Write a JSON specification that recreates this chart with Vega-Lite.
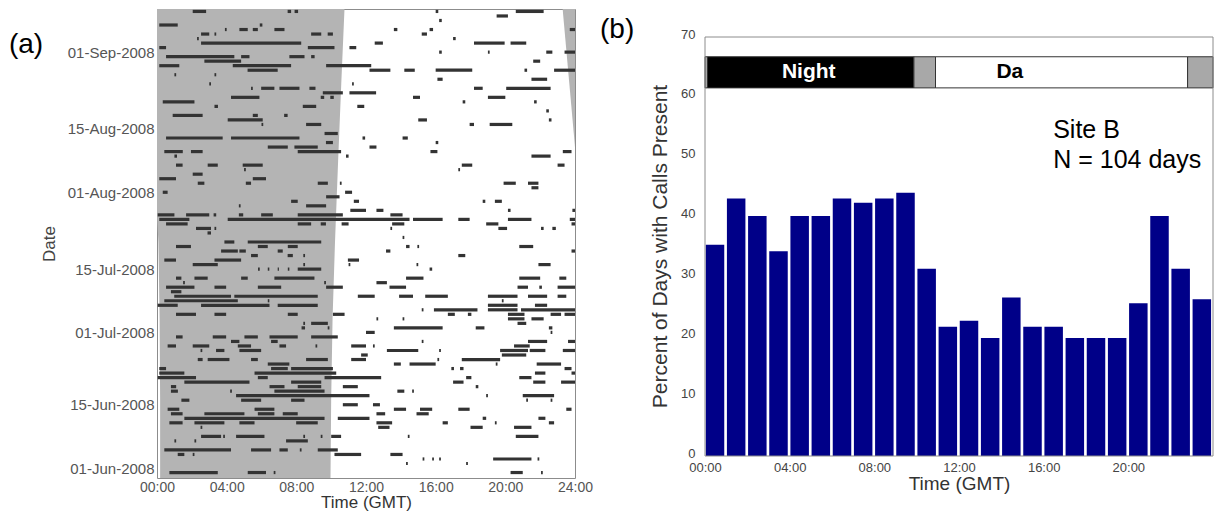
{
  "$schema": "https://vega.github.io/schema/vega-lite/v6.json",
  "padding": {"left": 8, "top": 8, "right": 0, "bottom": 0},
  "spacing": 6,
  "config": {
    "font": "Liberation Sans",
    "view": {"stroke": "#8c8c8c"},
    "axis": {"grid": false, "labelFont": "Liberation Sans", "titleFont": "Liberation Sans", "titleFontWeight": "normal"}
  },
  "hconcat": [
    {
      "width": 418,
      "height": 469,
      "layer": [
        {
          "data": {"values": [
            {"part": "main", "date": "2008/05/29", "start": 0.18, "end": 9.96},
            {"part": "main", "date": "2008/06/16", "start": 0.18, "end": 10.0},
            {"part": "main", "date": "2008/07/04", "start": 0.15, "end": 10.08},
            {"part": "main", "date": "2008/07/21", "start": 0.08, "end": 10.22},
            {"part": "main", "date": "2008/07/27", "start": 0, "end": 10.28},
            {"part": "main", "date": "2008/08/08", "start": 0, "end": 10.4},
            {"part": "main", "date": "2008/08/25", "start": 0, "end": 10.58},
            {"part": "main", "date": "2008/09/11", "start": 0, "end": 10.77},
            {"part": "late", "date": "2008/08/11", "start": 24, "end": 24},
            {"part": "late", "date": "2008/09/11", "start": 23.28, "end": 24}
          ]},
          "mark": {"type": "area", "orient": "horizontal", "color": "#b4b4b4", "clip": true},
          "encoding": {
            "y": {
              "field": "date", "type": "temporal",
              "scale": {"domain": [{"year": 2008, "month": 5, "date": 29, "hours": 19}, {"year": 2008, "month": 9, "date": 10, "hours": 13}]},
              "axis": {
                "title": "Date",
                "values": [{"year": 2008, "month": 6, "date": 1}, {"year": 2008, "month": 6, "date": 15}, {"year": 2008, "month": 7, "date": 1}, {"year": 2008, "month": 7, "date": 15}, {"year": 2008, "month": 8, "date": 1}, {"year": 2008, "month": 8, "date": 15}, {"year": 2008, "month": 9, "date": 1}],
                "format": "%d-%b-%Y",
                "labelFontSize": 15, "labelColor": "#555555", "labelPadding": 3,
                "ticks": false, "domain": false,
                "titleFontSize": 17, "titleColor": "#444444", "titlePadding": 9
              }
            },
            "x": {
              "field": "start", "type": "quantitative",
              "scale": {"domain": [0, 24], "nice": false},
              "axis": {
                "title": "Time (GMT)",
                "values": [0, 4, 8, 12, 16, 20, 24],
                "labelExpr": "(datum.value < 10 ? '0' : '') + datum.value + ':00'",
                "labelFlush": false,
                "labelFontSize": 14, "labelColor": "#555555", "labelPadding": 2,
                "ticks": false, "domain": false,
                "titleFontSize": 17, "titleColor": "#333333", "titlePadding": 0
              }
            },
            "x2": {"field": "end"},
            "detail": {"field": "part"}
          }
        },
        {
          "data": {"values": [
            {"date": "2008/09/10", "start": 2.05, "end": 2.82}, {"date": "2008/09/10", "start": 7.5, "end": 7.7}, {"date": "2008/09/10", "start": 7.9, "end": 8.1}, {"date": "2008/09/10", "start": 16.0, "end": 16.15}, {"date": "2008/09/10", "start": 20.6, "end": 22.2},
            {"date": "2008/09/09", "start": 19.5, "end": 20.15},
            {"date": "2008/09/08", "start": 16.2, "end": 16.35},
            {"date": "2008/09/07", "start": 0.13, "end": 1.19}, {"date": "2008/09/07", "start": 5.9, "end": 6.05},
            {"date": "2008/09/06", "start": 3.9, "end": 4.0}, {"date": "2008/09/06", "start": 4.73, "end": 5.21}, {"date": "2008/09/06", "start": 5.5, "end": 5.79}, {"date": "2008/09/06", "start": 6.74, "end": 7.32}, {"date": "2008/09/06", "start": 13.6, "end": 13.8}, {"date": "2008/09/06", "start": 15.65, "end": 15.85}, {"date": "2008/09/06", "start": 23.7, "end": 24},
            {"date": "2008/09/05", "start": 2.53, "end": 3.0}, {"date": "2008/09/05", "start": 3.3, "end": 3.4}, {"date": "2008/09/05", "start": 8.85, "end": 9.43}, {"date": "2008/09/05", "start": 9.8, "end": 10.1}, {"date": "2008/09/05", "start": 15.2, "end": 15.5},
            {"date": "2008/09/04", "start": 2.3, "end": 2.4}, {"date": "2008/09/04", "start": 17.0, "end": 17.15},
            {"date": "2008/09/03", "start": 2.53, "end": 8.28}, {"date": "2008/09/03", "start": 12.5, "end": 12.97}, {"date": "2008/09/03", "start": 18.2, "end": 19.96}, {"date": "2008/09/03", "start": 20.3, "end": 21.2},
            {"date": "2008/09/02", "start": 0.13, "end": 0.52}, {"date": "2008/09/02", "start": 8.66, "end": 10.19}, {"date": "2008/09/02", "start": 11.05, "end": 11.44},
            {"date": "2008/09/01", "start": 16.2, "end": 16.35}, {"date": "2008/09/01", "start": 19.0, "end": 19.1}, {"date": "2008/09/01", "start": 22.35, "end": 22.7}, {"date": "2008/09/01", "start": 23.4, "end": 24},
            {"date": "2008/08/31", "start": 0.52, "end": 4.44}, {"date": "2008/08/31", "start": 4.83, "end": 5.31}, {"date": "2008/08/31", "start": 7.6, "end": 8.47}, {"date": "2008/08/31", "start": 8.85, "end": 9.05},
            {"date": "2008/08/30", "start": 2.72, "end": 4.83}, {"date": "2008/08/30", "start": 21.6, "end": 22.0},
            {"date": "2008/08/29", "start": 0.13, "end": 1.28}, {"date": "2008/08/29", "start": 4.35, "end": 7.7}, {"date": "2008/08/29", "start": 9.71, "end": 12.3},
            {"date": "2008/08/28", "start": 5.2, "end": 6.93}, {"date": "2008/08/28", "start": 12.2, "end": 13.4}, {"date": "2008/08/28", "start": 14.2, "end": 14.8}, {"date": "2008/08/28", "start": 16.0, "end": 18.1}, {"date": "2008/08/28", "start": 21.1, "end": 21.25}, {"date": "2008/08/28", "start": 22.8, "end": 24},
            {"date": "2008/08/27", "start": 1.0, "end": 1.1}, {"date": "2008/08/27", "start": 3.3, "end": 3.4},
            {"date": "2008/08/26", "start": 16.1, "end": 16.4}, {"date": "2008/08/26", "start": 21.5, "end": 22.4},
            {"date": "2008/08/25", "start": 3.0, "end": 3.1}, {"date": "2008/08/25", "start": 11.2, "end": 11.3},
            {"date": "2008/08/24", "start": 5.4, "end": 5.5}, {"date": "2008/08/24", "start": 5.98, "end": 6.74}, {"date": "2008/08/24", "start": 7.03, "end": 8.18}, {"date": "2008/08/24", "start": 8.75, "end": 9.1}, {"date": "2008/08/24", "start": 18.2, "end": 18.7}, {"date": "2008/08/24", "start": 20.05, "end": 22.6},
            {"date": "2008/08/23", "start": 9.52, "end": 10.67}, {"date": "2008/08/23", "start": 11.05, "end": 12.58},
            {"date": "2008/08/22", "start": 4.25, "end": 5.88}, {"date": "2008/08/22", "start": 9.4, "end": 9.6}, {"date": "2008/08/22", "start": 9.95, "end": 10.15}, {"date": "2008/08/22", "start": 14.7, "end": 15.1}, {"date": "2008/08/22", "start": 19.0, "end": 20.0},
            {"date": "2008/08/21", "start": 0.33, "end": 2.15}, {"date": "2008/08/21", "start": 17.55, "end": 17.7}, {"date": "2008/08/21", "start": 21.65, "end": 21.8},
            {"date": "2008/08/20", "start": 3.3, "end": 3.5}, {"date": "2008/08/20", "start": 8.37, "end": 9.14}, {"date": "2008/08/20", "start": 11.5, "end": 11.9},
            {"date": "2008/08/19", "start": 22.35, "end": 22.5},
            {"date": "2008/08/18", "start": 0.9, "end": 2.62}, {"date": "2008/08/18", "start": 5.5, "end": 5.79}, {"date": "2008/08/18", "start": 7.3, "end": 7.5},
            {"date": "2008/08/17", "start": 4.06, "end": 6.07}, {"date": "2008/08/17", "start": 15.0, "end": 15.5}, {"date": "2008/08/17", "start": 22.5, "end": 22.65},
            {"date": "2008/08/16", "start": 6.0, "end": 6.1}, {"date": "2008/08/16", "start": 8.56, "end": 9.43}, {"date": "2008/08/16", "start": 17.95, "end": 18.2}, {"date": "2008/08/16", "start": 19.1, "end": 20.4},
            {"date": "2008/08/14", "start": 9.62, "end": 10.38},
            {"date": "2008/08/13", "start": 0.52, "end": 3.77}, {"date": "2008/08/13", "start": 4.25, "end": 8.18}, {"date": "2008/08/13", "start": 11.8, "end": 11.95}, {"date": "2008/08/13", "start": 14.1, "end": 14.4},
            {"date": "2008/08/12", "start": 9.7, "end": 10.1}, {"date": "2008/08/12", "start": 16.0, "end": 16.15},
            {"date": "2008/08/11", "start": 6.36, "end": 7.51}, {"date": "2008/08/11", "start": 7.89, "end": 9.23}, {"date": "2008/08/11", "start": 12.2, "end": 12.6},
            {"date": "2008/08/10", "start": 0.42, "end": 1.48}, {"date": "2008/08/10", "start": 1.95, "end": 2.62}, {"date": "2008/08/10", "start": 8.08, "end": 10.57}, {"date": "2008/08/10", "start": 15.7, "end": 16.1}, {"date": "2008/08/10", "start": 23.3, "end": 23.8},
            {"date": "2008/08/09", "start": 1.0, "end": 1.15}, {"date": "2008/08/09", "start": 10.85, "end": 11.0}, {"date": "2008/08/09", "start": 21.5, "end": 22.6},
            {"date": "2008/08/07", "start": 1.09, "end": 1.47}, {"date": "2008/08/07", "start": 2.91, "end": 3.49}, {"date": "2008/08/07", "start": 4.92, "end": 6.07}, {"date": "2008/08/07", "start": 17.5, "end": 18.1}, {"date": "2008/08/07", "start": 23.0, "end": 23.4},
            {"date": "2008/08/06", "start": 5.0, "end": 5.1}, {"date": "2008/08/06", "start": 17.3, "end": 17.4},
            {"date": "2008/08/05", "start": 2.05, "end": 2.62},
            {"date": "2008/08/04", "start": 0.13, "end": 1.09}, {"date": "2008/08/04", "start": 5.5, "end": 6.26},
            {"date": "2008/08/03", "start": 2.34, "end": 2.72}, {"date": "2008/08/03", "start": 5.1, "end": 5.4}, {"date": "2008/08/03", "start": 9.23, "end": 9.81}, {"date": "2008/08/03", "start": 10.5, "end": 10.6}, {"date": "2008/08/03", "start": 19.9, "end": 20.6}, {"date": "2008/08/03", "start": 21.3, "end": 21.9},
            {"date": "2008/08/02", "start": 21.5, "end": 21.9},
            {"date": "2008/08/01", "start": 0.33, "end": 0.61}, {"date": "2008/08/01", "start": 10.8, "end": 11.2},
            {"date": "2008/07/31", "start": 9.71, "end": 10.48},
            {"date": "2008/07/30", "start": 7.7, "end": 8.08}, {"date": "2008/07/30", "start": 11.3, "end": 11.6}, {"date": "2008/07/30", "start": 18.7, "end": 18.85}, {"date": "2008/07/30", "start": 19.4, "end": 19.8},
            {"date": "2008/07/29", "start": 4.7, "end": 4.8}, {"date": "2008/07/29", "start": 8.56, "end": 9.71},
            {"date": "2008/07/28", "start": 11.1, "end": 12.0}, {"date": "2008/07/28", "start": 12.6, "end": 13.0}, {"date": "2008/07/28", "start": 20.15, "end": 20.3}, {"date": "2008/07/28", "start": 23.85, "end": 24},
            {"date": "2008/07/27", "start": 0.04, "end": 1.0}, {"date": "2008/07/27", "start": 1.67, "end": 3.0}, {"date": "2008/07/27", "start": 3.25, "end": 3.4}, {"date": "2008/07/27", "start": 4.7, "end": 4.95}, {"date": "2008/07/27", "start": 5.98, "end": 6.65}, {"date": "2008/07/27", "start": 8.08, "end": 10.67}, {"date": "2008/07/27", "start": 13.4, "end": 14.1},
            {"date": "2008/07/26", "start": 0.13, "end": 1.86}, {"date": "2008/07/26", "start": 4.06, "end": 14.5}, {"date": "2008/07/26", "start": 14.7, "end": 16.4}, {"date": "2008/07/26", "start": 17.3, "end": 17.95}, {"date": "2008/07/26", "start": 20.15, "end": 21.5}, {"date": "2008/07/26", "start": 23.7, "end": 24},
            {"date": "2008/07/25", "start": 0.52, "end": 1.76}, {"date": "2008/07/25", "start": 8.08, "end": 8.85}, {"date": "2008/07/25", "start": 9.4, "end": 9.7}, {"date": "2008/07/25", "start": 10.6, "end": 11.0}, {"date": "2008/07/25", "start": 13.5, "end": 14.2}, {"date": "2008/07/25", "start": 18.9, "end": 19.6}, {"date": "2008/07/25", "start": 23.8, "end": 24},
            {"date": "2008/07/24", "start": 2.24, "end": 3.1}, {"date": "2008/07/24", "start": 3.3, "end": 3.4}, {"date": "2008/07/24", "start": 13.4, "end": 13.5}, {"date": "2008/07/24", "start": 19.6, "end": 20.1}, {"date": "2008/07/24", "start": 22.05, "end": 22.2}, {"date": "2008/07/24", "start": 22.7, "end": 22.9},
            {"date": "2008/07/23", "start": 2.9, "end": 3.1},
            {"date": "2008/07/22", "start": 14.1, "end": 14.2},
            {"date": "2008/07/21", "start": 3.87, "end": 4.44}, {"date": "2008/07/21", "start": 5.21, "end": 9.43},
            {"date": "2008/07/20", "start": 1.09, "end": 1.95}, {"date": "2008/07/20", "start": 5.79, "end": 6.36}, {"date": "2008/07/20", "start": 7.51, "end": 8.08}, {"date": "2008/07/20", "start": 14.3, "end": 14.5}, {"date": "2008/07/20", "start": 14.95, "end": 15.05}, {"date": "2008/07/20", "start": 20.8, "end": 21.6},
            {"date": "2008/07/19", "start": 3.68, "end": 4.64}, {"date": "2008/07/19", "start": 4.73, "end": 5.1}, {"date": "2008/07/19", "start": 6.93, "end": 7.22}, {"date": "2008/07/19", "start": 13.15, "end": 13.4}, {"date": "2008/07/19", "start": 23.8, "end": 24},
            {"date": "2008/07/18", "start": 5.4, "end": 5.79}, {"date": "2008/07/18", "start": 7.5, "end": 7.8}, {"date": "2008/07/18", "start": 8.4, "end": 8.5}, {"date": "2008/07/18", "start": 17.3, "end": 17.7},
            {"date": "2008/07/17", "start": 0.42, "end": 1.09}, {"date": "2008/07/17", "start": 3.3, "end": 4.83}, {"date": "2008/07/17", "start": 10.96, "end": 11.6},
            {"date": "2008/07/16", "start": 2.05, "end": 3.49}, {"date": "2008/07/16", "start": 8.4, "end": 8.5}, {"date": "2008/07/16", "start": 11.0, "end": 11.1}, {"date": "2008/07/16", "start": 14.9, "end": 15.0}, {"date": "2008/07/16", "start": 21.9, "end": 22.6},
            {"date": "2008/07/15", "start": 5.8, "end": 5.9}, {"date": "2008/07/15", "start": 6.36, "end": 6.45}, {"date": "2008/07/15", "start": 6.93, "end": 7.0}, {"date": "2008/07/15", "start": 7.51, "end": 7.6}, {"date": "2008/07/15", "start": 8.08, "end": 9.43}, {"date": "2008/07/15", "start": 15.65, "end": 15.8},
            {"date": "2008/07/13", "start": 1.09, "end": 1.4}, {"date": "2008/07/13", "start": 2.15, "end": 2.91}, {"date": "2008/07/13", "start": 4.83, "end": 5.21}, {"date": "2008/07/13", "start": 6.74, "end": 9.04}, {"date": "2008/07/13", "start": 14.3, "end": 15.3}, {"date": "2008/07/13", "start": 20.8, "end": 22.0}, {"date": "2008/07/13", "start": 23.1, "end": 23.5},
            {"date": "2008/07/12", "start": 1.5, "end": 1.6}, {"date": "2008/07/12", "start": 9.6, "end": 9.7}, {"date": "2008/07/12", "start": 12.6, "end": 13.2},
            {"date": "2008/07/11", "start": 0.52, "end": 2.15}, {"date": "2008/07/11", "start": 3.3, "end": 3.97}, {"date": "2008/07/11", "start": 5.79, "end": 7.13}, {"date": "2008/07/11", "start": 9.71, "end": 10.67}, {"date": "2008/07/11", "start": 13.35, "end": 14.3}, {"date": "2008/07/11", "start": 20.7, "end": 21.3}, {"date": "2008/07/11", "start": 21.95, "end": 22.1}, {"date": "2008/07/11", "start": 23.0, "end": 24},
            {"date": "2008/07/10", "start": 0.8, "end": 1.4},
            {"date": "2008/07/09", "start": 0.99, "end": 4.25}, {"date": "2008/07/09", "start": 4.44, "end": 9.23}, {"date": "2008/07/09", "start": 11.53, "end": 12.5}, {"date": "2008/07/09", "start": 13.9, "end": 14.7}, {"date": "2008/07/09", "start": 15.4, "end": 16.7}, {"date": "2008/07/09", "start": 19.0, "end": 20.7}, {"date": "2008/07/09", "start": 21.3, "end": 22.4}, {"date": "2008/07/09", "start": 23.0, "end": 23.5},
            {"date": "2008/07/08", "start": 0.42, "end": 4.64}, {"date": "2008/07/08", "start": 6.36, "end": 6.45}, {"date": "2008/07/08", "start": 19.8, "end": 19.9},
            {"date": "2008/07/07", "start": 0.04, "end": 1.19}, {"date": "2008/07/07", "start": 2.53, "end": 6.46}, {"date": "2008/07/07", "start": 6.93, "end": 9.23}, {"date": "2008/07/07", "start": 19.0, "end": 20.7}, {"date": "2008/07/07", "start": 21.7, "end": 22.4},
            {"date": "2008/07/06", "start": 15.2, "end": 15.3}, {"date": "2008/07/06", "start": 15.9, "end": 18.4}, {"date": "2008/07/06", "start": 19.0, "end": 20.7}, {"date": "2008/07/06", "start": 20.9, "end": 24},
            {"date": "2008/07/05", "start": 1.09, "end": 2.24}, {"date": "2008/07/05", "start": 3.3, "end": 3.97}, {"date": "2008/07/05", "start": 7.51, "end": 8.08}, {"date": "2008/07/05", "start": 10.1, "end": 10.77}, {"date": "2008/07/05", "start": 16.7, "end": 17.1}, {"date": "2008/07/05", "start": 17.85, "end": 18.05}, {"date": "2008/07/05", "start": 20.15, "end": 21.1}, {"date": "2008/07/05", "start": 22.6, "end": 23.2}, {"date": "2008/07/05", "start": 23.4, "end": 24},
            {"date": "2008/07/04", "start": 12.6, "end": 12.7}, {"date": "2008/07/04", "start": 14.1, "end": 14.2}, {"date": "2008/07/04", "start": 20.15, "end": 21.1}, {"date": "2008/07/04", "start": 21.5, "end": 22.2},
            {"date": "2008/07/03", "start": 8.4, "end": 8.5}, {"date": "2008/07/03", "start": 8.85, "end": 9.81}, {"date": "2008/07/03", "start": 20.7, "end": 21.2},
            {"date": "2008/07/02", "start": 8.3, "end": 8.5}, {"date": "2008/07/02", "start": 9.8, "end": 9.9}, {"date": "2008/07/02", "start": 13.6, "end": 16.4}, {"date": "2008/07/02", "start": 18.3, "end": 18.8}, {"date": "2008/07/02", "start": 22.5, "end": 22.7},
            {"date": "2008/07/01", "start": 12.0, "end": 12.5}, {"date": "2008/07/01", "start": 22.6, "end": 22.7},
            {"date": "2008/06/30", "start": 1.09, "end": 1.47}, {"date": "2008/06/30", "start": 3.2, "end": 3.97}, {"date": "2008/06/30", "start": 5.02, "end": 5.79}, {"date": "2008/06/30", "start": 6.46, "end": 8.08}, {"date": "2008/06/30", "start": 8.85, "end": 10.38},
            {"date": "2008/06/29", "start": 4.25, "end": 4.73}, {"date": "2008/06/29", "start": 6.55, "end": 6.93}, {"date": "2008/06/29", "start": 15.2, "end": 15.3}, {"date": "2008/06/29", "start": 21.3, "end": 22.4}, {"date": "2008/06/29", "start": 23.6, "end": 24},
            {"date": "2008/06/28", "start": 0.61, "end": 1.09}, {"date": "2008/06/28", "start": 2.05, "end": 3.0}, {"date": "2008/06/28", "start": 4.64, "end": 5.4}, {"date": "2008/06/28", "start": 7.03, "end": 7.41}, {"date": "2008/06/28", "start": 9.1, "end": 9.2}, {"date": "2008/06/28", "start": 11.15, "end": 12.0}, {"date": "2008/06/28", "start": 12.4, "end": 12.5}, {"date": "2008/06/28", "start": 20.5, "end": 21.4},
            {"date": "2008/06/27", "start": 2.5, "end": 2.6}, {"date": "2008/06/27", "start": 3.39, "end": 3.87}, {"date": "2008/06/27", "start": 4.73, "end": 5.98}, {"date": "2008/06/27", "start": 13.2, "end": 15.0}, {"date": "2008/06/27", "start": 16.2, "end": 16.3}, {"date": "2008/06/27", "start": 19.7, "end": 21.3}, {"date": "2008/06/27", "start": 21.4, "end": 22.3}, {"date": "2008/06/27", "start": 23.3, "end": 24},
            {"date": "2008/06/26", "start": 11.72, "end": 12.1}, {"date": "2008/06/26", "start": 19.8, "end": 21.2},
            {"date": "2008/06/25", "start": 2.34, "end": 2.62}, {"date": "2008/06/25", "start": 2.91, "end": 4.16}, {"date": "2008/06/25", "start": 5.4, "end": 5.79}, {"date": "2008/06/25", "start": 8.56, "end": 9.81}, {"date": "2008/06/25", "start": 11.15, "end": 12.0}, {"date": "2008/06/25", "start": 16.1, "end": 16.2}, {"date": "2008/06/25", "start": 17.5, "end": 19.7},
            {"date": "2008/06/24", "start": 6.36, "end": 7.6}, {"date": "2008/06/24", "start": 13.6, "end": 14.0}, {"date": "2008/06/24", "start": 14.5, "end": 16.0}, {"date": "2008/06/24", "start": 19.45, "end": 19.55}, {"date": "2008/06/24", "start": 21.8, "end": 23.2},
            {"date": "2008/06/23", "start": 0.13, "end": 0.52}, {"date": "2008/06/23", "start": 6.55, "end": 7.51}, {"date": "2008/06/23", "start": 7.7, "end": 10.1}, {"date": "2008/06/23", "start": 16.9, "end": 17.05}, {"date": "2008/06/23", "start": 17.4, "end": 17.6}, {"date": "2008/06/23", "start": 23.4, "end": 23.8},
            {"date": "2008/06/22", "start": 0.13, "end": 1.57}, {"date": "2008/06/22", "start": 5.6, "end": 10.29}, {"date": "2008/06/22", "start": 21.7, "end": 22.3}, {"date": "2008/06/22", "start": 23.8, "end": 24},
            {"date": "2008/06/21", "start": 0.04, "end": 2.24}, {"date": "2008/06/21", "start": 5.79, "end": 6.36}, {"date": "2008/06/21", "start": 9.62, "end": 12.87}, {"date": "2008/06/21", "start": 17.75, "end": 18.05}, {"date": "2008/06/21", "start": 20.8, "end": 21.5},
            {"date": "2008/06/20", "start": 1.57, "end": 5.31}, {"date": "2008/06/20", "start": 7.7, "end": 9.43}, {"date": "2008/06/20", "start": 17.0, "end": 17.6}, {"date": "2008/06/20", "start": 21.6, "end": 22.3}, {"date": "2008/06/20", "start": 23.2, "end": 24},
            {"date": "2008/06/19", "start": 0.8, "end": 1.1}, {"date": "2008/06/19", "start": 6.46, "end": 7.32}, {"date": "2008/06/19", "start": 8.08, "end": 9.43}, {"date": "2008/06/19", "start": 10.67, "end": 11.53}, {"date": "2008/06/19", "start": 18.3, "end": 18.45},
            {"date": "2008/06/18", "start": 0.8, "end": 1.2}, {"date": "2008/06/18", "start": 4.2, "end": 4.3}, {"date": "2008/06/18", "start": 6.74, "end": 9.62}, {"date": "2008/06/18", "start": 13.8, "end": 14.2}, {"date": "2008/06/18", "start": 14.65, "end": 14.75},
            {"date": "2008/06/17", "start": 4.54, "end": 12.2}, {"date": "2008/06/17", "start": 18.9, "end": 19.0}, {"date": "2008/06/17", "start": 21.0, "end": 22.8},
            {"date": "2008/06/16", "start": 1.4, "end": 1.86}, {"date": "2008/06/16", "start": 4.83, "end": 5.98}, {"date": "2008/06/16", "start": 7.7, "end": 8.47}, {"date": "2008/06/16", "start": 21.2, "end": 21.3}, {"date": "2008/06/16", "start": 22.6, "end": 22.7},
            {"date": "2008/06/15", "start": 10.67, "end": 11.53}, {"date": "2008/06/15", "start": 12.4, "end": 12.8},
            {"date": "2008/06/14", "start": 0.61, "end": 1.28}, {"date": "2008/06/14", "start": 5.6, "end": 6.74}, {"date": "2008/06/14", "start": 13.6, "end": 14.3}, {"date": "2008/06/14", "start": 15.1, "end": 15.8}, {"date": "2008/06/14", "start": 17.3, "end": 17.95}, {"date": "2008/06/14", "start": 23.5, "end": 23.8},
            {"date": "2008/06/13", "start": 0.8, "end": 1.47}, {"date": "2008/06/13", "start": 2.72, "end": 5.02}, {"date": "2008/06/13", "start": 5.79, "end": 6.74}, {"date": "2008/06/13", "start": 7.22, "end": 8.08}, {"date": "2008/06/13", "start": 12.6, "end": 13.1}, {"date": "2008/06/13", "start": 14.9, "end": 15.6},
            {"date": "2008/06/12", "start": 1.57, "end": 9.62}, {"date": "2008/06/12", "start": 10.38, "end": 12.2}, {"date": "2008/06/12", "start": 18.7, "end": 18.9}, {"date": "2008/06/12", "start": 21.9, "end": 22.3},
            {"date": "2008/06/11", "start": 0.71, "end": 1.47}, {"date": "2008/06/11", "start": 2.15, "end": 3.87}, {"date": "2008/06/11", "start": 4.73, "end": 5.6}, {"date": "2008/06/11", "start": 7.99, "end": 9.23}, {"date": "2008/06/11", "start": 12.6, "end": 13.5}, {"date": "2008/06/11", "start": 16.4, "end": 16.7}, {"date": "2008/06/11", "start": 19.4, "end": 19.5}, {"date": "2008/06/11", "start": 22.5, "end": 22.8},
            {"date": "2008/06/10", "start": 2.5, "end": 2.6}, {"date": "2008/06/10", "start": 12.7, "end": 13.35}, {"date": "2008/06/10", "start": 18.0, "end": 18.7}, {"date": "2008/06/10", "start": 20.5, "end": 21.5},
            {"date": "2008/06/08", "start": 2.53, "end": 3.68}, {"date": "2008/06/08", "start": 3.8, "end": 3.9}, {"date": "2008/06/08", "start": 4.54, "end": 6.17}, {"date": "2008/06/08", "start": 8.4, "end": 8.5}, {"date": "2008/06/08", "start": 9.4, "end": 9.5}, {"date": "2008/06/08", "start": 10.0, "end": 10.57}, {"date": "2008/06/08", "start": 14.4, "end": 14.5}, {"date": "2008/06/08", "start": 20.6, "end": 21.9},
            {"date": "2008/06/07", "start": 1.0, "end": 1.1}, {"date": "2008/06/07", "start": 2.15, "end": 2.25}, {"date": "2008/06/07", "start": 7.41, "end": 8.66},
            {"date": "2008/06/05", "start": 0.42, "end": 4.25}, {"date": "2008/06/05", "start": 5.4, "end": 6.55}, {"date": "2008/06/05", "start": 7.03, "end": 7.51}, {"date": "2008/06/05", "start": 8.2, "end": 8.3}, {"date": "2008/06/05", "start": 9.23, "end": 10.38},
            {"date": "2008/06/04", "start": 1.19, "end": 1.57}, {"date": "2008/06/04", "start": 2.05, "end": 2.15}, {"date": "2008/06/04", "start": 10.19, "end": 11.72}, {"date": "2008/06/04", "start": 13.4, "end": 14.1},
            {"date": "2008/06/03", "start": 15.25, "end": 15.35}, {"date": "2008/06/03", "start": 15.8, "end": 15.9}, {"date": "2008/06/03", "start": 16.2, "end": 16.3}, {"date": "2008/06/03", "start": 19.3, "end": 21.5}, {"date": "2008/06/03", "start": 21.85, "end": 21.95},
            {"date": "2008/06/02", "start": 14.3, "end": 14.4}, {"date": "2008/06/02", "start": 17.75, "end": 17.85},
            {"date": "2008/05/31", "start": 0.71, "end": 3.49}, {"date": "2008/05/31", "start": 5.21, "end": 6.26}, {"date": "2008/05/31", "start": 6.7, "end": 6.8}, {"date": "2008/05/31", "start": 20.3, "end": 21.0}, {"date": "2008/05/31", "start": 22.05, "end": 22.15}
          ]},
          "mark": {"type": "rule", "strokeWidth": 3.2, "color": "#333333", "clip": true, "strokeCap": "butt"},
          "encoding": {
            "y": {"field": "date", "type": "temporal", "title": "Date"},
            "x": {"field": "start", "type": "quantitative", "title": "Time (GMT)"},
            "x2": {"field": "end"}
          }
        },
        {
          "data": {"values": [{}]},
          "mark": {"type": "text", "text": "(a)", "fontSize": 28, "color": "#000000", "align": "left", "baseline": "middle"},
          "encoding": {
            "x": {"datum": -8.5},
            "y": {"datum": {"year": 2008, "month": 9, "date": 2, "hours": 14}}
          }
        }
      ]
    },
    {
      "width": 518,
      "height": 447,
      "view": {"stroke": null},
      "layer": [
        {
          "data": {"values": [
            {"hour": 0, "percent": 35.3}, {"hour": 1, "percent": 43.0}, {"hour": 2, "percent": 40.1}, {"hour": 3, "percent": 34.2},
            {"hour": 4, "percent": 40.1}, {"hour": 5, "percent": 40.1}, {"hour": 6, "percent": 43.0}, {"hour": 7, "percent": 42.3},
            {"hour": 8, "percent": 43.0}, {"hour": 9, "percent": 44.0}, {"hour": 10, "percent": 31.3}, {"hour": 11, "percent": 21.6},
            {"hour": 12, "percent": 22.6}, {"hour": 13, "percent": 19.7}, {"hour": 14, "percent": 26.5}, {"hour": 15, "percent": 21.6},
            {"hour": 16, "percent": 21.6}, {"hour": 17, "percent": 19.7}, {"hour": 18, "percent": 19.7}, {"hour": 19, "percent": 19.7},
            {"hour": 20, "percent": 25.5}, {"hour": 21, "percent": 40.1}, {"hour": 22, "percent": 31.3}, {"hour": 23, "percent": 26.2}
          ]},
          "mark": {"type": "bar", "orient": "vertical", "width": 18.5, "xOffset": 10, "color": "#000088"},
          "encoding": {
            "x": {
              "field": "hour", "type": "quantitative",
              "scale": {"domain": [0, 24], "nice": false},
              "axis": {
                "title": "Time (GMT)",
                "values": [0, 4, 8, 12, 16, 20],
                "labelExpr": "(datum.value < 10 ? '0' : '') + datum.value + ':00'",
                "labelFlush": false,
                "labelFontSize": 13, "labelColor": "#444444", "labelPadding": 5,
                "ticks": false, "domain": false,
                "titleFontSize": 19, "titleColor": "#333333", "titlePadding": 0
              }
            },
            "y": {
              "field": "percent", "type": "quantitative",
              "scale": {"domain": [0, 74.68], "nice": false},
              "axis": {
                "title": "Percent of Days with Calls Present",
                "values": [0, 10, 20, 30, 40, 50, 60, 70],
                "labelFontSize": 13, "labelColor": "#444444", "labelPadding": 5, "labelOffset": -3,
                "ticks": false, "domain": false,
                "titleFontSize": 21, "titleColor": "#333333", "titlePadding": 10, "titleY": 237
              }
            }
          }
        },
        {
          "data": {"values": [
            {"phase": "Twilight", "start": 0, "end": 0.12},
            {"phase": "Night", "start": 0.12, "end": 9.87},
            {"phase": "Twilight", "start": 9.87, "end": 10.89},
            {"phase": "Day", "start": 10.89, "end": 22.8},
            {"phase": "Twilight", "start": 22.8, "end": 24}
          ]},
          "mark": {"type": "rect", "stroke": "#333333", "strokeWidth": 1},
          "encoding": {
            "x": {"field": "start", "type": "quantitative", "title": "Time (GMT)"},
            "x2": {"field": "end"},
            "y": {"datum": 61.5},
            "y2": {"datum": 66.7},
            "color": {"field": "phase", "type": "nominal", "scale": {"domain": ["Night", "Twilight", "Day"], "range": ["#000000", "#a8a8a8", "#ffffff"]}, "legend": null}
          }
        },
        {
          "data": {"values": [{}]},
          "mark": {"type": "text", "text": "Night", "fontSize": 21, "fontWeight": "bold", "color": "#ffffff", "align": "center", "baseline": "middle"},
          "encoding": {"x": {"datum": 4.9}, "y": {"datum": 64.1}}
        },
        {
          "data": {"values": [{}]},
          "mark": {"type": "text", "text": "Da", "fontSize": 21, "fontWeight": "bold", "color": "#000000", "align": "center", "baseline": "middle"},
          "encoding": {"x": {"datum": 14.4}, "y": {"datum": 64.1}}
        },
        {
          "data": {"values": [{}]},
          "mark": {"type": "text", "text": ["Site B", "N = 104 days"], "fontSize": 25, "lineHeight": 30, "color": "#000000", "align": "left", "baseline": "middle"},
          "encoding": {"x": {"datum": 16.45}, "y": {"datum": 54.46}}
        },
        {
          "data": {"values": [{}]},
          "mark": {"type": "text", "text": "(b)", "fontSize": 28, "color": "#000000", "align": "left", "baseline": "middle"},
          "encoding": {"x": {"datum": -4.96}, "y": {"datum": 71.17}}
        },
        {
          "data": {"values": [{}]},
          "mark": {"type": "rect", "filled": false, "color": "#8c8c8c", "strokeWidth": 1},
          "encoding": {"x": {"datum": 0}, "x2": {"datum": 24}, "y": {"datum": 0}, "y2": {"datum": 70}}
        }
      ]
    }
  ]
}
